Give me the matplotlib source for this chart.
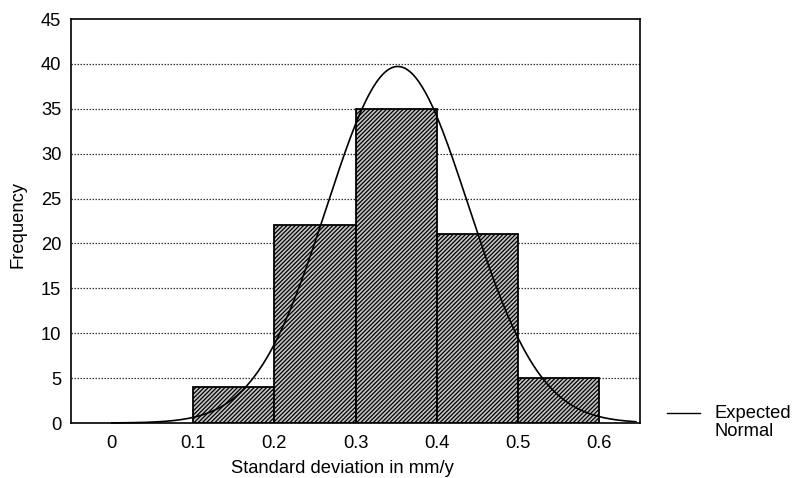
import numpy as np
import matplotlib
matplotlib.use("Agg")
import matplotlib.pyplot as plt
from matplotlib.lines import Line2D

plt.rcParams['font.family'] = ['Liberation Sans', 'DejaVu Sans']
plt.rcParams['hatch.linewidth'] = 0.9
plt.rcParams['hatch.color'] = '#1a1a1a'

bin_left = [0.1, 0.2, 0.3, 0.4, 0.5]
freq = [4, 22, 35, 21, 5]
bin_width = 0.1
x_ticks = [0, 0.1, 0.2, 0.3, 0.4, 0.5, 0.6]
x_tick_labels = ['0', '0.1', '0.2', '0.3', '0.4', '0.5', '0.6']
y_ticks = [0, 5, 10, 15, 20, 25, 30, 35, 40, 45]
# expected normal parameters
norm_mean = 0.352
norm_sd = 0.0874
norm_n = 87

W, H = 794, 478
fig = plt.figure(figsize=(W / 100, H / 100), dpi=100)
ax = fig.add_axes([71 / W, 1 - 423 / H, (640 - 71) / W, (423 - 19) / H])

ax.set_xlim(-0.05, 0.65)
ax.set_ylim(0, 45)
for y in y_ticks[1:-1]:
    ax.axhline(y, color='#333333', linestyle=(0, (1.2, 1.2)), linewidth=0.9, zorder=0)

ax.bar(bin_left, freq, width=bin_width, align='edge', facecolor='#c4c4c4',
       edgecolor='black', linewidth=1.3, hatch='////////', zorder=2)

xs = np.linspace(0.0, 0.645, 300)
ys = norm_n * bin_width / (norm_sd * np.sqrt(2 * np.pi)) * np.exp(-0.5 * ((xs - norm_mean) / norm_sd) ** 2)
ax.plot(xs, ys, color='black', linewidth=1.2, zorder=3, clip_on=False)

fs = 13.2
ax.set_xticks(x_ticks)
ax.set_xticklabels(x_tick_labels)
ax.set_yticks(y_ticks)
ax.tick_params(axis='x', length=0, labelsize=fs, pad=9)
ax.tick_params(axis='y', length=0, labelsize=fs, pad=7)
for s in ax.spines.values():
    s.set_linewidth(1.2)

fig.text(18 / W, 1 - 224 / H, 'Frequency', rotation=90, ha='center', va='center', fontsize=fs)
fig.text(342 / W, 1 - 473 / H, 'Standard deviation in mm/y', ha='center', va='baseline', fontsize=fs)

# legend: handle line + label
fig.add_artist(Line2D([667 / W, 700 / W], [1 - 413 / H, 1 - 413 / H], color='black', linewidth=1.0))
fig.text(714 / W, 1 - 413 / H, 'Expected', ha='left', va='center', fontsize=fs)
fig.text(714 / W, 1 - 432 / H, 'Normal', ha='left', va='center', fontsize=fs)

fig.savefig('out.png', dpi=100)
